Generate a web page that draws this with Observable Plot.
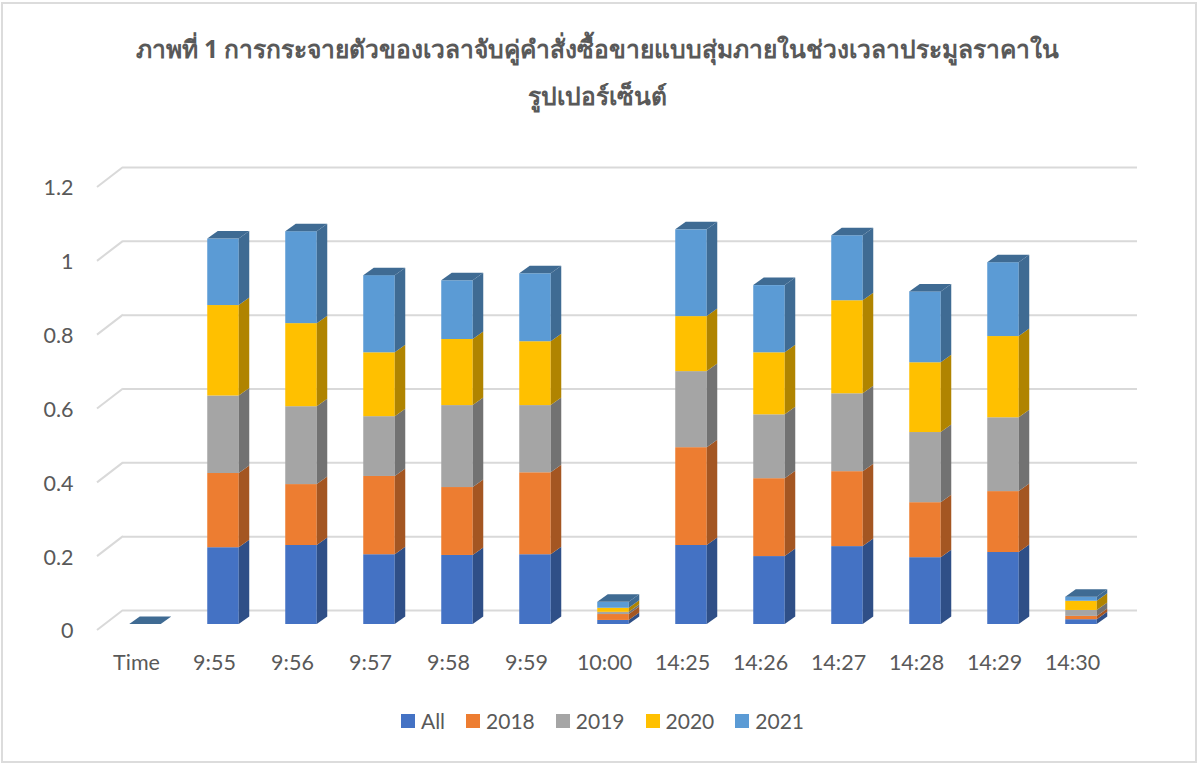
<!DOCTYPE html>
<html lang="th">
<head>
<meta charset="utf-8">
<script src="https://cdn.jsdelivr.net/npm/d3@7"></script>
<script src="https://cdn.jsdelivr.net/npm/@observablehq/plot@0.6"></script>
<style>
  html, body { margin: 0; padding: 0; background: #fff; }
  body { width: 1200px; height: 766px; position: relative; overflow: hidden; font-family: Lato, sans-serif; }
  #frame { position: absolute; left: 1px; top: 2px; width: 1192px; height: 757px; border: 2px solid #dcdcdc; box-sizing: content-box; pointer-events: none; }
  #title { position: absolute; left: 0; top: 25px; width: 1195px; text-align: center; font: bold 24.6px/47px "Noto Sans", sans-serif; color: #595959; }
  #chart { position: absolute; left: 0; top: 130px; }
  #chart svg { display: block; }
  #legend { position: absolute; left: 0; top: 706px; width: 1205px; display: flex; justify-content: center; align-items: center; font: 21px/30px Lato, sans-serif; color: #595959; }
  #legend .item { display: flex; align-items: center; margin: 0 10.5px; }
  #legend .swatch { width: 14px; height: 14px; margin-right: 6px; }
</style>
</head>
<body>
<div id="frame"></div>
<div id="title">ภาพที่ 1 การกระจายตัวของเวลาจับคู่คำสั่งซื้อขายแบบสุ่มภายในช่วงเวลาประมูลราคาใน<br>รูปเปอร์เซ็นต์</div>
<div id="chart"></div>
<div id="legend"></div>
<script>
const times = ["Time","9:55","9:56","9:57","9:58","9:59","10:00","14:25","14:26","14:27","14:28","14:29","14:30"];
const seriesNames = ["All","2018","2019","2020","2021"];
const all     = [0,.208,.214,.189,.187,.189,.011,.214,.184,.211,.181,.195,.013];
const y2018   = [0,.201,.165,.212,.184,.222,.016,.265,.211,.203,.149,.165,.009];
const y2019   = [0,.210,.211,.162,.222,.182,.006,.206,.173,.211,.190,.200,.016];
const y2020   = [0,.245,.225,.173,.179,.173,.011,.149,.168,.252,.189,.220,.025];
const y2021   = [0,.180,.249,.209,.159,.184,.016,.235,.182,.176,.192,.200,.011];
const yTicks  = [0,.2,.4,.6,.8,1,1.2];
const colors  = ["#4472C4","#ED7D31","#A5A5A5","#FFC000","#5B9BD5"];

const columns = [all, y2018, y2019, y2020, y2021];
const table = [];
times.forEach((t, i) => seriesNames.forEach((s, j) => table.push({time: t, series: s, value: columns[j][i]})));

const SVGNS = "http://www.w3.org/2000/svg";
const shade = c => { const r = d3.rgb(c); return d3.rgb(r.r * .69, r.g * .69, r.b * .69).formatHex(); };
const depth = {x: 10.5, y: 7.5};   // visual depth of one bar
const wall  = {x: 26, y: 20};      // distance from axis plane to back wall

function poly(parent, pts, fill) {
  const p = document.createElementNS(SVGNS, "polygon");
  p.setAttribute("points", pts.map(d => d.join(",")).join(" "));
  p.setAttribute("fill", fill);
  parent.appendChild(p);
}

// Adds the side and top faces of the 3D columns to the library's own rects.
function faces(index, scales, values, dims, context, next) {
  const g = next(index, scales, values, dims, context);
  const rects = Array.from(g.querySelectorAll("rect"));
  for (const r of rects) {
    const x = +r.getAttribute("x"), y = +r.getAttribute("y") || 0,
          w = +r.getAttribute("width"), h = +r.getAttribute("height") || 0;
    const fill = r.getAttribute("fill");
    const par = r.parentNode;
    poly(par, [[x+w,y],[x+w+depth.x,y-depth.y],[x+w+depth.x,y+h-depth.y],[x+w,y+h]], shade(fill));
    if (fill.toLowerCase() === colors[colors.length-1].toLowerCase())
      poly(par, [[x,y],[x+depth.x,y-depth.y],[x+w+depth.x,y-depth.y],[x+w,y]], shade(fill));
  }
  return g;
}

// Floor lines joining the axis plane to the back wall at each tick.
function floorLines(index, scales, values, dims, context, next) {
  const g = next(index, scales, values, dims, context);
  const holder = document.createElementNS(SVGNS, "g");
  for (const v of yTicks) {
    const l = document.createElementNS(SVGNS, "line");
    const y0 = scales.y(v);
    l.setAttribute("x1", dims.marginLeft); l.setAttribute("y1", y0);
    l.setAttribute("x2", dims.marginLeft + wall.x); l.setAttribute("y2", y0 - wall.y);
    l.setAttribute("stroke", "#d9d9d9"); l.setAttribute("stroke-width", 2);
    holder.appendChild(l);
  }
  holder.appendChild(g);
  return holder;
}

const plot = Plot.plot({
  width: 1200, height: 560,
  marginTop: 57, marginBottom: 60, marginLeft: 97, marginRight: 89,
  style: {background: "transparent", fontFamily: "Lato, sans-serif", overflow: "visible"},
  x: {type: "band", domain: times, padding: 0, label: null},
  y: {domain: [0, 1.2], label: null},
  color: {domain: seriesNames, range: colors},
  marks: [
    Plot.ruleY(yTicks, {stroke: "#d9d9d9", strokeWidth: 2, strokeOpacity: 1, dx: wall.x, dy: -wall.y, render: floorLines}),
    Plot.barY(table, {
      x: "time", y: "value", fill: "series", order: seriesNames,
      insetLeft: 23.25, insetRight: 23.25, dx: 9, dy: -6, render: faces
    }),
    Plot.axisY({ticks: yTicks, tickFormat: d => String(d), tickSize: 0, tickPadding: 24, dy: 1, fontSize: 21.5, fill: "#595959", label: null}),
    Plot.axisX({tickSize: 0, tickPadding: 24, fontSize: 21.5, fill: "#595959", label: null})
  ]
});
document.getElementById("chart").appendChild(plot);

const legend = d3.select("#legend");
seriesNames.forEach((s, i) => {
  const it = legend.append("div").attr("class", "item");
  it.append("div").attr("class", "swatch").style("background", colors[i]);
  it.append("span").text(s);
});
</script>
</body>
</html>
